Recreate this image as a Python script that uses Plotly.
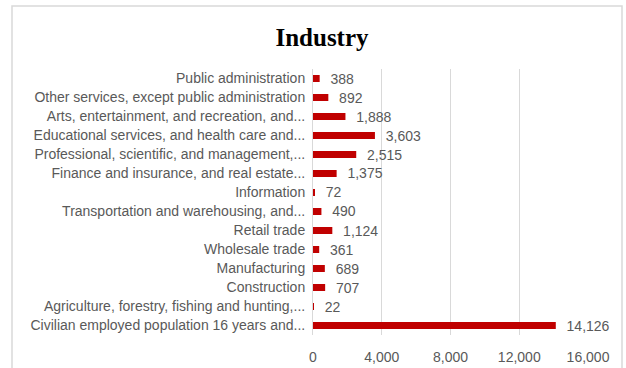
import plotly.graph_objects as go

# Employment by industry (bottom to top)
categories = [
    "Civilian employed population 16 years and...",
    "Agriculture, forestry, fishing and hunting,...",
    "Construction",
    "Manufacturing",
    "Wholesale trade",
    "Retail trade",
    "Transportation and warehousing, and...",
    "Information",
    "Finance and insurance, and real estate...",
    "Professional, scientific, and management,...",
    "Educational services, and health care and...",
    "Arts, entertainment, and recreation, and...",
    "Other services, except public administration",
    "Public administration",
]
values = [14126, 22, 707, 689, 361, 1124, 490, 72, 1375, 2515, 3603, 1888, 892, 388]
x_ticks = [0, 4000, 8000, 12000, 16000]

W, H = 626, 368
# plot area in pixels
L, R, T, B = 313, 588, 69, 335

gray = "#595959"

fig = go.Figure(
    go.Bar(
        x=values,
        y=categories,
        orientation="h",
        marker=dict(color="#C00000", line=dict(width=0)),
        width=0.37,
        texttemplate="  %{x:,}",
        textposition="outside",
        constraintext="none",
        textfont=dict(family="Liberation Sans", size=14, color=gray),
        cliponaxis=False,
    )
)

def px_x(p):
    return (p - L) / (R - L)

def px_y(p):
    return (B - p) / (B - T)

# chart frame
fig.add_shape(
    type="rect", xref="paper", yref="paper",
    x0=px_x(12), x1=px_x(622), y0=px_y(380), y1=px_y(6),
    line=dict(color="#d9d9d9", width=1.5), fillcolor="rgba(0,0,0,0)",
    layer="below",
)

fig.update_layout(
    width=W, height=H,
    margin=dict(l=L, r=W - R, t=T, b=H - B, pad=0),
    paper_bgcolor="white",
    plot_bgcolor="white",
    showlegend=False,
    title=dict(
        text="<b>Industry</b>",
        font=dict(family="Liberation Serif", size=25, color="black"),
        x=322 / W, xanchor="center", xref="container",
        y=1 - 37 / H, yanchor="middle", yref="container",
    ),
    xaxis=dict(
        range=[0, 16000],
        tickvals=x_ticks,
        tickformat=",",
        showgrid=True,
        gridcolor="#d9d9d9",
        gridwidth=1,
        zeroline=False,
        showline=False,
        ticks="",
        tickfont=dict(family="Liberation Sans", size=14, color=gray),
        ticklabelstandoff=12,
        automargin=False,
    ),
    yaxis=dict(
        range=[-0.5, 13.5],
        showgrid=False,
        zeroline=False,
        showline=True,
        linecolor="#d9d9d9",
        linewidth=1,
        ticks="",
        tickfont=dict(family="Liberation Sans", size=14, color=gray),
        ticklabelstandoff=4,
        automargin=False,
    ),
)

fig.write_html("out.html")
